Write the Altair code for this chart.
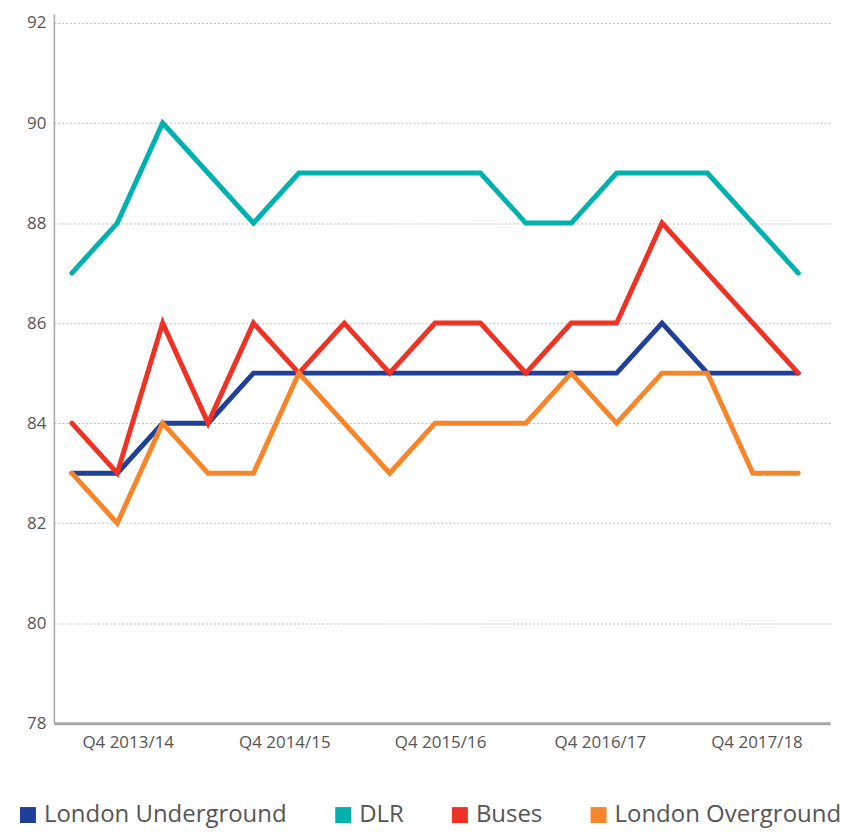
import altair as alt
import pandas as pd

# ---- data ----
quarters = [
    "Q4 2013/14", "Q1 2014/15", "Q2 2014/15", "Q3 2014/15",
    "Q4 2014/15", "Q1 2015/16", "Q2 2015/16", "Q3 2015/16",
    "Q4 2015/16", "Q1 2016/17", "Q2 2016/17", "Q3 2016/17",
    "Q4 2016/17", "Q1 2017/18", "Q2 2017/18", "Q3 2017/18",
    "Q4 2017/18",
]
underground = [83, 83, 84, 84, 85, 85, 85, 85, 85, 85, 85, 85, 85, 86, 85, 85, 85]
dlr = [87, 88, 90, 89, 88, 89, 89, 89, 89, 89, 88, 88, 89, 89, 89, 88, 87]
buses = [84, 83, 86, 84, 86, 85, 86, 85, 86, 86, 85, 86, 86, 88, 87, 86, 85]
overground = [83, 82, 84, 83, 83, 85, 84, 83, 84, 84, 84, 85, 84, 85, 85, 83, 83]

series_names = ["London Underground", "DLR", "Buses", "London Overground"]
series_colors = ["#1f3f98", "#00b1ae", "#ee3325", "#f7862a"]

# x-axis label text and where the reference places it (in quarter-index units)
tick_labels = ["Q4 2013/14", "Q4 2014/15", "Q4 2015/16", "Q4 2016/17", "Q4 2017/18"]
tick_pos = [1.23, 4.68, 8.11, 11.63, 15.08]
y_ticks = [78, 80, 82, 84, 86, 88, 90, 92]

rows = []
for name, vals in zip(series_names, [underground, dlr, buses, overground]):
    for i, (q, v) in enumerate(zip(quarters, vals)):
        rows.append({"idx": i, "quarter": q, "series": name, "value": v})
df = pd.DataFrame(rows)

label_expr = (
    "[" + ",".join("'%s'" % t for t in tick_labels) + "]"
    + "[indexof([" + ",".join(str(p) for p in tick_pos) + "], datum.value)]"
)

FONT = "Open Sans"
GRAY = "#555555"

chart = (
    alt.Chart(df)
    .mark_line(strokeWidth=5, strokeCap="round", strokeJoin="miter")
    .encode(
        x=alt.X(
            "idx:Q",
            scale=alt.Scale(domain=[-0.396, 16.70], nice=False, zero=False),
            axis=alt.Axis(
                values=tick_pos,
                labelExpr=label_expr,
                title=None,
                grid=False,
                ticks=False,
                domainColor="#a8a8a8",
                domainWidth=3,
                labelFont=FONT,
                labelFontSize=17,
                labelColor=GRAY,
                labelPadding=11,
            ),
        ),
        y=alt.Y(
            "value:Q",
            scale=alt.Scale(domain=[78, 92.18], nice=False, zero=False),
            axis=alt.Axis(
                values=y_ticks,
                title=None,
                ticks=False,
                grid=True,
                gridColor="#bdbdbd",
                gridDash=[2, 2],
                gridWidth=1,
                domainColor="#a8a8a8",
                domainWidth=1.5,
                labelFont=FONT,
                labelFontSize=17,
                labelColor=GRAY,
                labelPadding=8,
            ),
        ),
        color=alt.Color(
            "series:N",
            sort=series_names,
            scale=alt.Scale(domain=series_names, range=series_colors),
            legend=alt.Legend(
                title=None,
                orient="none",
                direction="horizontal",
                legendX=-38,
                legendY=791,
                symbolType="square",
                symbolSize=64,
                symbolStrokeWidth=8,
                symbolOpacity=1,
                labelFont=FONT,
                labelFontSize=24,
                labelColor=GRAY,
                labelOffset=4,
                labelLimit=0,
                columnPadding=36,
                padding=0,
            ),
        ),
        order=alt.Order("idx:Q"),
    )
    .properties(
        width=778,
        height=711,
        padding={"left": 46, "top": 5, "right": 11, "bottom": 107},
        autosize=alt.AutoSizeParams(type="none"),
    )
    .configure_view(stroke=None)
)

chart.save("out.html", embed_options={"renderer": "svg", "actions": False})
